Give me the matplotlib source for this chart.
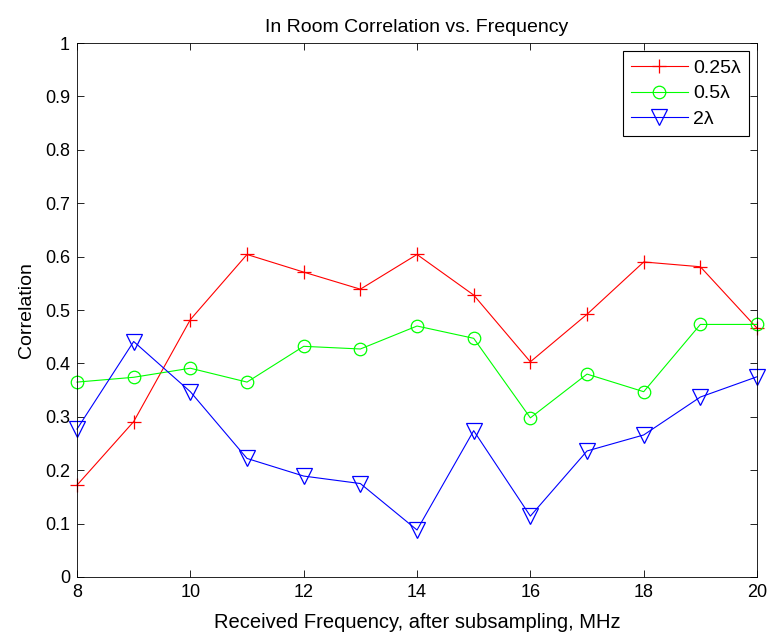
import matplotlib
matplotlib.use("Agg")
import matplotlib.pyplot as plt

plt.rcParams['font.family'] = ['Liberation Sans', 'DejaVu Sans']

freq = [8, 9, 10, 11, 12, 13, 14, 15, 16, 17, 18, 19, 20]
corr_025 = [0.172, 0.291, 0.482, 0.604, 0.571, 0.539, 0.604, 0.528, 0.403, 0.492, 0.590, 0.581, 0.466]
corr_05 = [0.365, 0.374, 0.391, 0.365, 0.432, 0.427, 0.470, 0.447, 0.298, 0.380, 0.347, 0.473, 0.473]
corr_2 = [0.277, 0.441, 0.347, 0.222, 0.189, 0.175, 0.088, 0.274, 0.114, 0.236, 0.266, 0.337, 0.375]
labels = ['0.25λ', '0.5λ', '2λ']
xticks = [8, 10, 12, 14, 16, 18, 20]
yticks = [0, 0.1, 0.2, 0.3, 0.4, 0.5, 0.6, 0.7, 0.8, 0.9, 1]

fig = plt.figure(figsize=(7.67, 6.33), dpi=100)
ax = fig.add_axes([0.1004, 0.0885, 0.8866, 0.8435])

common = dict(linewidth=0.8, markeredgewidth=0.9, clip_on=False)
ax.plot(freq, corr_025, color='red', marker='+', markersize=10, label=labels[0], **common)
ax.plot(freq, corr_05, color='#00ff00', marker='o', markersize=9,
        markerfacecolor='none', label=labels[1], **common)
ax.plot(freq, corr_2, color='blue', marker='v', markersize=11,
        markerfacecolor='none', label=labels[2], **common)

ax.set_xlim(8, 20)
ax.set_ylim(0, 1)
ax.set_xticks(xticks)
ax.set_xticklabels([str(t) for t in xticks])
ax.set_yticks(yticks)
ax.set_yticklabels([f'{t:g}' for t in yticks])
ax.tick_params(direction='in', top=True, right=True, labelsize=13, length=5, width=0.6, pad=5)
for s in ax.spines.values():
    s.set_linewidth(0.6)

ax.set_title('In Room Correlation vs. Frequency', fontsize=14, pad=8)
ax.set_xlabel('Received Frequency, after subsampling, MHz', fontsize=14.5, labelpad=9)
ax.set_ylabel('Correlation', fontsize=14, labelpad=7)

leg = ax.legend(loc='upper right', fontsize=14, fancybox=False, framealpha=1,
                edgecolor='black', borderaxespad=0.4, handlelength=2.9,
                handletextpad=0.3, labelspacing=0.42, borderpad=0.42)
leg.get_frame().set_linewidth(0.8)

fig.savefig('out.png', dpi=100)
